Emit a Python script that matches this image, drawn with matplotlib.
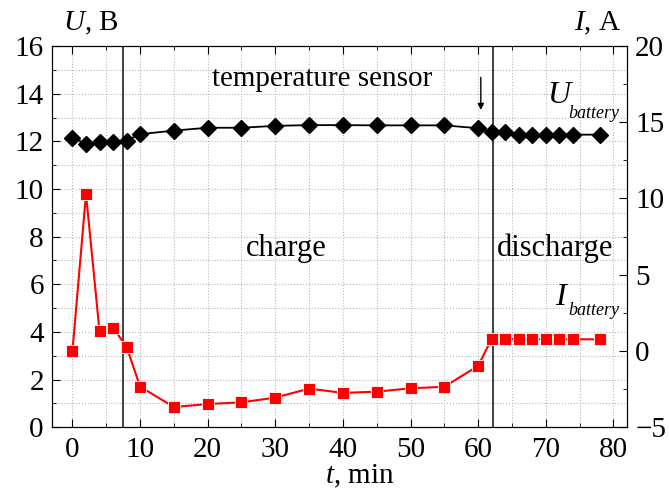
import numpy as np
import matplotlib.pyplot as plt
from matplotlib.ticker import MultipleLocator

plt.rcParams['font.family'] = 'Liberation Serif'
plt.rcParams['mathtext.fontset'] = 'custom'
plt.rcParams['mathtext.rm'] = 'Liberation Serif'
plt.rcParams['mathtext.it'] = 'Liberation Serif:italic'

# time, min
t = [0, 2, 4, 6, 8, 10, 15, 20, 25, 30, 35, 40, 45, 50, 55, 60,
     62, 64, 66, 68, 70, 72, 74, 78]
# battery voltage, V
u_battery = [12.15, 11.9, 11.96, 11.96, 12.03, 12.3, 12.45, 12.57, 12.57, 12.65,
             12.68, 12.68, 12.67, 12.67, 12.67, 12.55,
             12.38, 12.38, 12.28, 12.28, 12.28, 12.28, 12.28, 12.28]
# battery current, A
i_battery = [0.0, 10.3, 1.3, 1.52, 0.28, -2.34, -3.68, -3.48, -3.37, -3.06,
             -2.47, -2.75, -2.67, -2.45, -2.35, -0.98,
             0.79, 0.79, 0.79, 0.77, 0.77, 0.77, 0.77, 0.76]

t_switch = [7.5, 62.2]

fs = 21

fig = plt.figure(figsize=(6.69, 4.95), dpi=100)
ax = fig.add_axes([0.078, 0.137, 0.859, 0.770])
ax2 = ax.twinx()

ax.set_xlim(-3, 82)
ax.set_ylim(0, 16)
ax2.set_ylim(-5, 20)

ax.xaxis.set_major_locator(MultipleLocator(10))
ax.xaxis.set_minor_locator(MultipleLocator(5))
ax.yaxis.set_major_locator(MultipleLocator(2))
ax.yaxis.set_minor_locator(MultipleLocator(1))
ax2.yaxis.set_major_locator(MultipleLocator(5))
ax2.yaxis.set_minor_locator(MultipleLocator(2.5))

ax.grid(True, which='both', color='#b8b8b8', linestyle=':', linewidth=0.8)
ax.set_axisbelow(True)

ax.tick_params(which='both', direction='in', top=True, labelsize=fs)
ax.tick_params(axis='y', pad=6)
ax.tick_params(axis='x', pad=7)
ax.tick_params(which='major', length=6)
ax.tick_params(which='minor', length=3)
ax2.tick_params(which='both', direction='in', labelsize=fs, pad=6)
ax2.tick_params(which='major', length=6)
ax2.tick_params(which='minor', length=3)

for x in t_switch:
    ax.axvline(x, color='#222222', linewidth=1.2, zorder=2)

ax.plot(t, u_battery, color='black', marker='D', markersize=8.5,
        linewidth=1.3, zorder=3)
ax2.plot(t, i_battery, color='red', marker='s', markersize=8,
         markeredgecolor='white', markeredgewidth=0.6, linewidth=1.5, zorder=3)

ax.annotate('', xy=(60.4, 13.2), xytext=(60.4, 14.8),
            arrowprops=dict(arrowstyle='-|>', color='black', lw=1.0,
                            mutation_scale=9))

ax.text(37.0, 14.6, 'temperature sensor', fontsize=fs, ha='center', va='center')
ax.text(31.6, 7.5, 'charge', fontsize=fs + 1, ha='center', va='center')
ax.text(71.4, 7.5, 'discharge', fontsize=fs + 1, ha='center', va='center')

ax.text(70.2, 13.61, 'U', fontsize=23, style='italic', ha='left', va='baseline')
ax.text(73.3, 13.0, 'battery', fontsize=13, style='italic', ha='left', va='baseline')
ax.text(71.4, 5.14, 'I', fontsize=23, style='italic', ha='left', va='baseline')
ax.text(73.3, 4.71, 'battery', fontsize=13, style='italic', ha='left', va='baseline')

fig.text(0.135, 0.952, r'$U$, B', fontsize=fs, ha='center', va='center')
fig.text(0.893, 0.952, r'$I$, A', fontsize=fs, ha='center', va='center')
fig.text(360 / 669, 1 - 476 / 495, r'$t$, min', fontsize=fs, ha='center', va='center')

fig.savefig('out.png', dpi=100)
